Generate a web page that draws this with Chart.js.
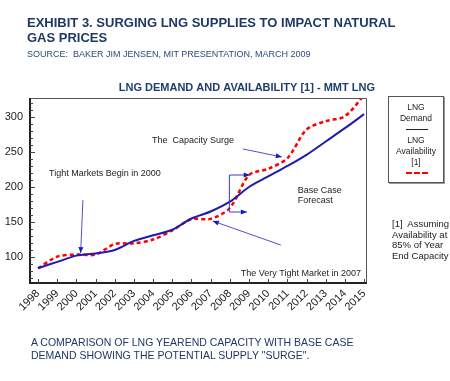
<!DOCTYPE html>
<html>
<head>
<meta charset="utf-8">
<script src="https://cdn.jsdelivr.net/npm/chart.js@4/dist/chart.umd.min.js"></script>
<style>
  html,body{margin:0;padding:0;background:#fff;}
  #wrap{position:relative;width:450px;height:381px;overflow:hidden;font-family:"Liberation Sans",Arial,sans-serif;}
  #c{position:absolute;left:0;top:0;}
  .t{position:absolute;white-space:nowrap;}
  #h1{left:27px;top:15px;font-size:13px;line-height:15px;font-weight:bold;color:#1f3864;}
  #src{left:27px;top:49px;font-size:9px;line-height:10px;color:#2c4a7c;}
  #cap{left:31px;top:336px;font-size:10.5px;line-height:13px;color:#1f3864;}
  #fn{left:392px;top:219px;font-size:9.5px;line-height:10.5px;color:#222;}
  #leg{position:absolute;left:388px;top:96px;width:54px;height:85px;border:1px solid #555;box-shadow:1px 1px 0 #999;font-size:8.5px;color:#222;text-align:center;}
  #leg div{position:absolute;left:0;width:54px;line-height:10px;}
  #leg .ln{position:absolute;left:17px;width:22px;height:0;}
</style>
</head>
<body>
<div id="wrap">
  <canvas id="c" width="450" height="381"></canvas>
  <div class="t" id="h1">EXHIBIT 3. SURGING LNG SUPPLIES TO IMPACT NATURAL<br>GAS PRICES</div>
  <div class="t" id="src">SOURCE:&nbsp; BAKER JIM JENSEN, MIT PRESENTATION, MARCH 2009</div>
  <div class="t" id="cap">A COMPARISON OF LNG YEAREND CAPACITY WITH BASE CASE<br>DEMAND SHOWING THE POTENTIAL SUPPLY "SURGE".</div>
  <div class="t" id="fn">[1]&nbsp; Assuming<br>Availability at<br>85% of Year<br>End Capacity</div>
  <div id="leg">
    <div style="top:5px">LNG</div>
    <div style="top:16px">Demand</div>
    <span class="ln" style="top:32px;border-top:1.5px solid #222;"></span>
    <div style="top:38px">LNG</div>
    <div style="top:49px">Availability</div>
    <div style="top:60px">[1]</div>
    <span class="ln" style="top:75px;border-top:2px dashed #ff0000;"></span>
  </div>
</div>
<script>
const years = [1998,1999,2000,2001,2002,2003,2004,2005,2006,2007,2008,2009,2010,2011,2012,2013,2014,2015];
const demand = [84,93,102,105,110,123,131,139,155,165,179,200,215,230,246,265,284,304];
const availability = [84,100.5,103.5,103.5,118.5,119.5,125,138,154,154.5,170,217,226,241,282,294,301,331];
const yTicks = [100,150,200,250,300];
const chartTitle = 'LNG DEMAND AND AVAILABILITY [1] - MMT LNG';

const notes = [
  {text:'The  Capacity Surge', x:2003.94, y:265.7},
  {text:'Tight Markets Begin in 2000', x:1998.57, y:218.6},
  {text:'Base Case', x:2011.54, y:194.3},
  {text:'Forecast', x:2011.54, y:180},
  {text:'The Very Tight Market in 2007', x:2008.57, y:77.1}
];
const arrows = [
  {from:[2000.34,181.4], to:[2000.22,105.7]},
  {from:[2008.68,254.3], to:[2010.71,242.9]},
  {from:[2010.66,117.1], to:[2007.11,151.4]}
];
const bracket = {x:2007.95, top:217.1, bottom:164.3, topEnd:2009.04, bottomEnd:2008.89};

function head(ctx, x1, y1, x2, y2, len, wid){
  const ang = Math.atan2(y2-y1, x2-x1);
  ctx.beginPath();
  ctx.moveTo(x2, y2);
  ctx.lineTo(x2 - len*Math.cos(ang) + wid*Math.sin(ang), y2 - len*Math.sin(ang) - wid*Math.cos(ang));
  ctx.lineTo(x2 - len*Math.cos(ang) - wid*Math.sin(ang), y2 - len*Math.sin(ang) + wid*Math.cos(ang));
  ctx.closePath();
  ctx.fill();
}

const deco = {
  id:'deco',
  afterDraw(chart){
    const {ctx, chartArea:a, scales:{x, y}} = chart;
    ctx.save();
    // frame
    ctx.strokeStyle = '#555'; ctx.lineWidth = 1;
    ctx.beginPath();
    ctx.moveTo(a.left, a.top+0.5); ctx.lineTo(a.right+0.5, a.top+0.5); ctx.lineTo(a.right+0.5, a.bottom);
    ctx.stroke();
    ctx.strokeStyle = '#222'; ctx.lineWidth = 2;
    ctx.beginPath();
    ctx.moveTo(a.left, a.top); ctx.lineTo(a.left, a.bottom); ctx.lineTo(a.right+1, a.bottom);
    ctx.stroke();
    // inward ticks
    ctx.lineWidth = 1; ctx.strokeStyle = '#444';
    ctx.beginPath();
    years.forEach(v => {
      const px = Math.round(x.getPixelForValue(v)) + 0.5;
      ctx.moveTo(px, a.bottom); ctx.lineTo(px, a.bottom - 4);
    });
    for (let v = 70; v <= 320; v += 10) {
      const py = Math.round(y.getPixelForValue(v)) + 0.5;
      ctx.moveTo(a.left, py); ctx.lineTo(a.left + (v % 50 === 0 ? 5 : 3), py);
    }
    ctx.stroke();
    // title
    ctx.fillStyle = '#1f3e70';
    ctx.font = 'bold 11px "Liberation Sans", Arial, sans-serif';
    ctx.textAlign = 'right'; ctx.textBaseline = 'alphabetic';
    ctx.fillText(chartTitle, a.right + 9, a.top - 7);
    // notes
    ctx.fillStyle = '#222';
    ctx.font = '9px "Liberation Sans", Arial, sans-serif';
    ctx.textAlign = 'left'; ctx.textBaseline = 'middle';
    notes.forEach(n => ctx.fillText(n.text, x.getPixelForValue(n.x), y.getPixelForValue(n.y)));
    // arrows
    arrows.forEach(ar => {
      const x1 = x.getPixelForValue(ar.from[0]), y1 = y.getPixelForValue(ar.from[1]);
      const x2 = x.getPixelForValue(ar.to[0]), y2 = y.getPixelForValue(ar.to[1]);
      ctx.strokeStyle = '#5050d8'; ctx.lineWidth = 1;
      ctx.beginPath(); ctx.moveTo(x1, y1); ctx.lineTo(x2, y2); ctx.stroke();
      ctx.fillStyle = '#1a1ab8';
      head(ctx, x1, y1, x2, y2, 6, 2.5);
    });
    // bracket
    const bx = x.getPixelForValue(bracket.x);
    const bt = y.getPixelForValue(bracket.top), bb = y.getPixelForValue(bracket.bottom);
    const te = x.getPixelForValue(bracket.topEnd), be = x.getPixelForValue(bracket.bottomEnd);
    ctx.strokeStyle = '#3a3ad0'; ctx.lineWidth = 1;
    ctx.beginPath();
    ctx.moveTo(te, bt); ctx.lineTo(bx + 0.5, bt); ctx.lineTo(bx + 0.5, bb); ctx.lineTo(be, bb);
    ctx.stroke();
    ctx.fillStyle = '#1a1ab8';
    head(ctx, bx, bt, te, bt, 6, 2.5);
    head(ctx, bx, bb, be, bb, 6, 2.5);
    ctx.restore();
  }
};

new Chart(document.getElementById('c'), {
  type:'line',
  data:{
    datasets:[
      {label:'LNG Demand', data:years.map((v,i)=>({x:v, y:demand[i]})), borderColor:'#1c1cb0', borderWidth:2, pointRadius:0, tension:0.3, fill:false},
      {label:'LNG Availability [1]', data:years.map((v,i)=>({x:v, y:availability[i]})), borderColor:'#ff0000', borderWidth:2.5, borderDash:[4,3], pointRadius:0, tension:0.3, fill:false}
    ]
  },
  options:{
    responsive:false, animation:false, devicePixelRatio:1,
    layout:{padding:{left:0, top:98, right:84, bottom:53}},
    plugins:{legend:{display:false}, tooltip:{enabled:false}, title:{display:false}},
    scales:{
      x:{type:'linear', min:1997.58, max:2015.1,
         afterBuildTicks:s=>{s.ticks = years.map(v=>({value:v}));},
         afterFit:s=>{s.height = 45;},
         grid:{display:false, drawTicks:false}, border:{display:false},
         ticks:{minRotation:45, maxRotation:45, autoSkip:false, padding:4, color:'#1a1a1a', font:{family:'"Liberation Sans", Arial, sans-serif', size:11}, callback:v=>String(v)}},
      y:{type:'linear', min:62.9, max:327.1,
         afterBuildTicks:s=>{s.ticks = yTicks.map(v=>({value:v}));},
         afterFit:s=>{s.width = 30;},
         grid:{display:false, drawTicks:false}, border:{display:false},
         ticks:{padding:7, color:'#1a1a1a', font:{family:'"Liberation Sans", Arial, sans-serif', size:11}}}
    }
  },
  plugins:[deco]
});
</script>
</body>
</html>
